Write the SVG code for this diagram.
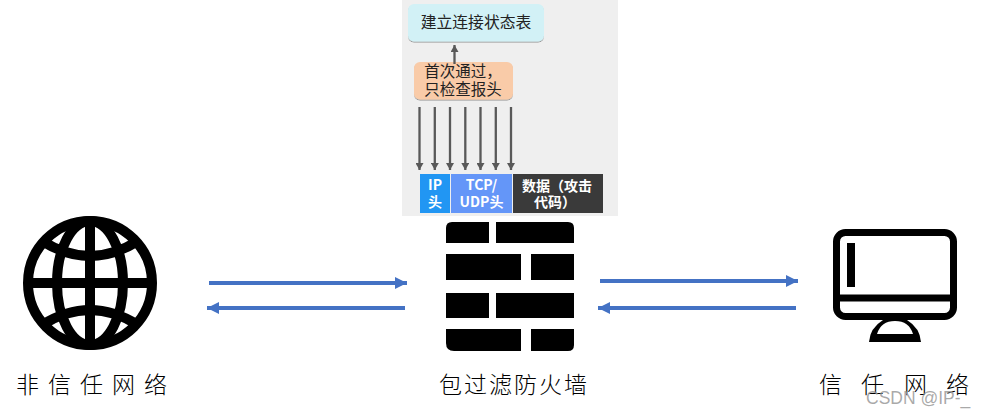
<svg xmlns="http://www.w3.org/2000/svg" width="985" height="415" viewBox="0 0 985 415">
<style>
text{font-family:"Noto Sans CJK SC","Noto Sans",sans-serif}
.lbl{font-size:23px;fill:#000;font-weight:300}
.p{font-size:15.5px;fill:#222;text-anchor:middle}
.w{font-size:14px;font-weight:700;fill:#fff;text-anchor:middle}
.blue{stroke:#4472c4;stroke-width:4;fill:none;marker-end:url(#ab)}
.gray{stroke:#595959;stroke-width:2.300;fill:none;marker-end:url(#ag)}
.k{fill:#000}
.gl{fill:none;stroke:#000;stroke-width:10}
.box{filter:url(#sh)}
</style>
<defs>
<marker id="ab" markerUnits="userSpaceOnUse" markerWidth="12" markerHeight="12" refX="12" refY="6" orient="auto"><path d="M0 0L12 6L0 12Z" fill="#4472c4"/></marker>
<marker id="ag" markerUnits="userSpaceOnUse" markerWidth="7" markerHeight="8" refX="7" refY="4" orient="auto"><path d="M0 0L7 4L0 8Z" fill="#595959"/></marker>
<clipPath id="cg"><circle cx="90" cy="283" r="64"/></clipPath>
<filter id="sh" x="-5%" y="-10%" width="110%" height="125%"><feDropShadow dx="0" dy="1" stdDeviation="0.700" flood-color="#000" flood-opacity="0.400"/></filter>
</defs>
<rect x="402" y="0" width="216" height="216" fill="#efefef"/>
<g id="state-table">
<rect class="box" x="408" y="4" width="136" height="37.500" rx="6" fill="#d2f1f6"/>
<text class="p" x="476" y="28" style="font-size:15.800px">建立连接状态表</text>
</g>
<g id="first-pass">
<rect class="box" x="414" y="62" width="99" height="37.500" rx="6" fill="#f9cba8"/>
<text class="p" x="463" y="77">首次通过，</text>
<text class="p" x="463" y="95">只检查报头</text>
</g>
<g id="connectors">
<path class="blue" d="M209 283H407"/>
<path class="blue" d="M405 308H207"/>
<path class="blue" d="M600 281H798"/>
<path class="blue" d="M796 308H598"/>
<path class="gray" d="M454.500 64V45"/>
<path class="gray" d="M419.500 107V170"/>
<path class="gray" d="M434.800 107V170"/>
<path class="gray" d="M450 107V170"/>
<path class="gray" d="M465.300 107V170"/>
<path class="gray" d="M480.500 107V170"/>
<path class="gray" d="M495.800 107V170"/>
<path class="gray" d="M511 107V170"/>
</g>
<g id="ip-header">
<rect x="420" y="174" width="30" height="39" fill="#2196f3"/>
<text class="w" x="435" y="190">IP</text>
<text class="w" x="435" y="207">头</text>
</g>
<g id="tcp-header">
<rect x="451" y="174" width="61" height="39" fill="#6496f8"/>
<text class="w" x="481.500" y="190">TCP/</text>
<text class="w" x="481.500" y="207">UDP头</text>
</g>
<g id="data">
<rect x="513" y="174" width="90" height="39" fill="#3a3a3a"/>
<text class="w" x="557" y="191">数据（攻击</text>
<text class="w" x="555" y="207">代码）</text>
</g>
<g id="globe">
<circle class="gl" cx="90" cy="283" r="62"/>
<ellipse class="gl" cx="90" cy="283" rx="33" ry="62"/>
<g clip-path="url(#cg)">
<path class="gl" d="M90 221V345M28 283H152"/>
<path class="gl" d="M42 241Q90 271 138 241M42 325Q90 295 138 325"/>
</g>
<text class="lbl" x="16 48 80 112 144" y="393">非信任网络</text>
</g>
<g id="firewall">
<path class="k" d="M452 222H489V243H446V228Q446 222 452 222Z"/>
<path class="k" d="M496 222H568Q574 222 574 228V243H496Z"/>
<rect class="k" x="446" y="254" width="75" height="26"/>
<rect class="k" x="531" y="254" width="43" height="26"/>
<rect class="k" x="446" y="293" width="43" height="25"/>
<rect class="k" x="496" y="293" width="78" height="25"/>
<path class="k" d="M446 329H521V351H454Q446 351 446 343Z"/>
<path class="k" d="M531 329H574V345Q574 351 568 351H531Z"/>
<text class="lbl" x="439 464 489 514 539 564" y="393">包过滤防火墙</text>
</g>
<g id="monitor">
<rect x="836.500" y="232.500" width="117" height="84" rx="9" fill="none" stroke="#000" stroke-width="7"/>
<path d="M836 298H954" stroke="#000" stroke-width="7"/>
<rect class="k" x="847" y="243" width="8" height="44"/>
<path class="k" d="M869 342Q870 328 883 320H907Q920 328 921 342Z"/>
<path d="M877 334Q881 321 895 321Q909 321 913 334Z" fill="#fff"/>
<text class="lbl" x="819 861 904 946" y="393">信任网络</text>
</g>
<text x="866" y="404" font-size="17.500" fill="#9a9a9a" fill-opacity="0.850" style="font-family:'Liberation Sans',sans-serif">CSDN @IP-_</text>
</svg>
